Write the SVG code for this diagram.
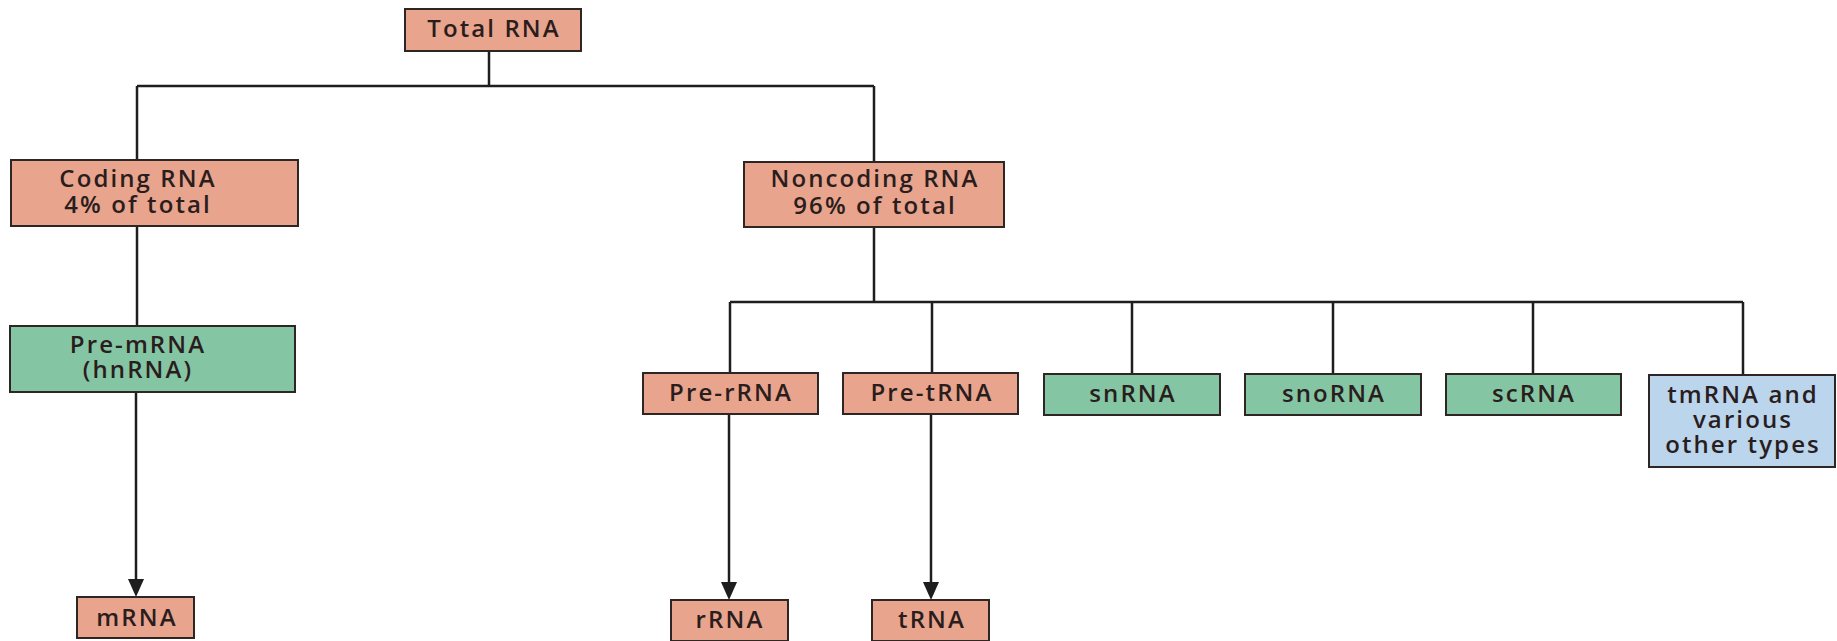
<svg xmlns="http://www.w3.org/2000/svg" width="1837" height="641" viewBox="0 0 1837 641">
<defs>
<style>
.box{stroke:#2e2624;stroke-width:2}
.s{fill:#E8A48C}
.g{fill:#84C5A3}
.b{fill:#BBD5EC}
.t{font-family:"Open Sans",Lato,sans-serif;font-size:24px;font-weight:600;letter-spacing:2.1px;fill:#2a1d1d;text-anchor:middle}
.ln{stroke:#1e1e1e;stroke-width:2.5;fill:none}
</style>
</defs>
<rect width="1837" height="641" fill="#fff"/>
<g id="connectors">
<path class="ln" d="M489,50 V86 M137,86 H874 M137,86 V161 M874,86 V162"/>
<path class="ln" d="M137,226 V326"/>
<path class="ln" d="M874,227 V302 M730,302 H1743 M730,302 V373 M932,302 V373 M1132,302 V374 M1333,302 V374 M1533,302 V374 M1743,302 V375"/>
<path class="ln" d="M136,392 V579" />
<path d="M128,579 L144,579 L136,597 Z" fill="#1e1e1e"/>
<path class="ln" d="M729,414 V582"/>
<path d="M721,582 L737,582 L729,600 Z" fill="#1e1e1e"/>
<path class="ln" d="M931,414 V582"/>
<path d="M923,582 L939,582 L931,600 Z" fill="#1e1e1e"/>
</g>
<g id="total"><rect class="box s" x="405" y="9" width="176" height="42"/><text class="t" x="494" y="37">Total RNA</text></g>
<g id="coding"><rect class="box s" x="11" y="160" width="287" height="66"/><text class="t" x="138" y="187">Coding RNA</text><text class="t" x="138" y="213">4% of total</text></g>
<g id="noncoding"><rect class="box s" x="744" y="162" width="260" height="65"/><text class="t" x="875" y="187">Noncoding RNA</text><text class="t" x="875" y="214">96% of total</text></g>
<g id="premrna"><rect class="box g" x="10" y="326" width="285" height="66"/><text class="t" x="138" y="353">Pre-mRNA</text><text class="t" x="138" y="378">(hnRNA)</text></g>
<g id="prerrna"><rect class="box s" x="643" y="373" width="175" height="41"/><text class="t" x="731" y="401">Pre-rRNA</text></g>
<g id="pretrna"><rect class="box s" x="843" y="373" width="175" height="41"/><text class="t" x="932" y="401">Pre-tRNA</text></g>
<g id="snrna"><rect class="box g" x="1044" y="374" width="176" height="41"/><text class="t" x="1133" y="402">snRNA</text></g>
<g id="snorna"><rect class="box g" x="1245" y="374" width="176" height="41"/><text class="t" x="1334" y="402">snoRNA</text></g>
<g id="scrna"><rect class="box g" x="1446" y="374" width="175" height="41"/><text class="t" x="1534" y="402">scRNA</text></g>
<g id="tmrna"><rect class="box b" x="1649" y="375" width="186" height="92"/><text class="t" x="1743" y="403">tmRNA and</text><text class="t" x="1743" y="428">various</text><text class="t" x="1743" y="453">other types</text></g>
<g id="mrna"><rect class="box s" x="77" y="597" width="117" height="41"/><text class="t" x="137" y="626">mRNA</text></g>
<g id="rrna"><rect class="box s" x="671" y="600" width="117" height="41"/><text class="t" x="730" y="628">rRNA</text></g>
<g id="trna"><rect class="box s" x="872" y="600" width="117" height="41"/><text class="t" x="932" y="628">tRNA</text></g>
</svg>
